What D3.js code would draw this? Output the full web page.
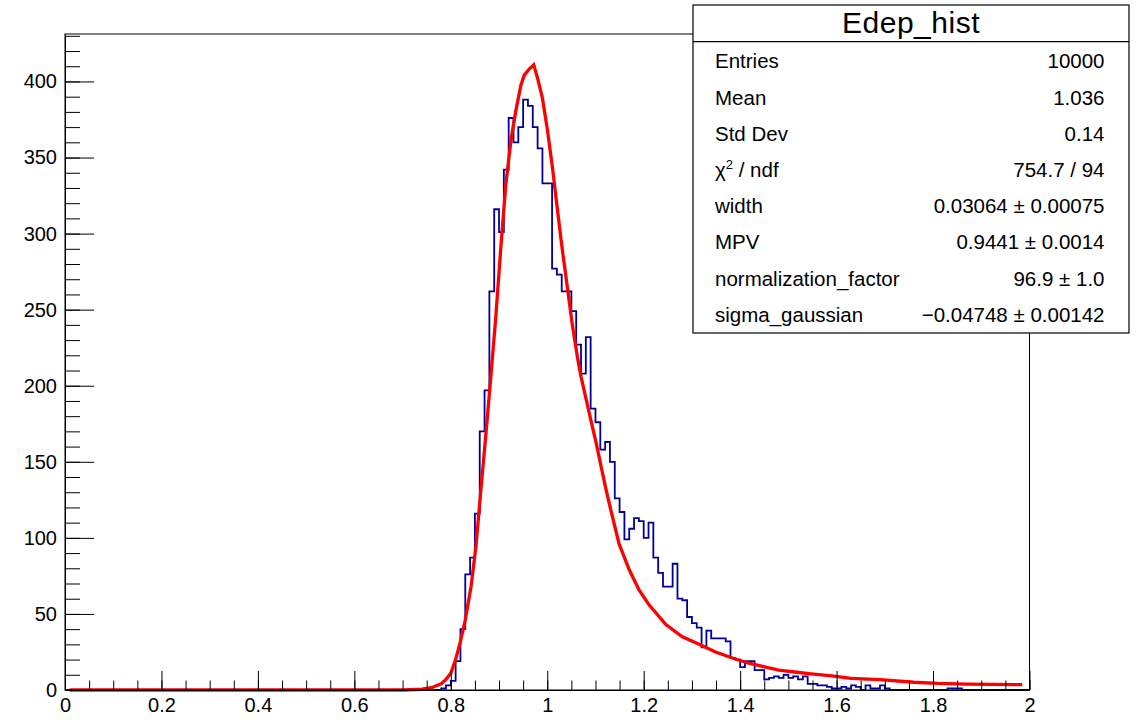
<!DOCTYPE html>
<html>
<head>
<meta charset="utf-8">
<script src="https://cdn.jsdelivr.net/npm/d3@7"></script>
<style>
  html, body { margin: 0; padding: 0; background: #fff; }
  svg { display: block; font-family: "Liberation Sans", Arial, Helvetica, sans-serif; }
</style>
</head>
<body>
<svg id="chart" width="1140" height="724"></svg>
<script>
// ---- Edep_hist: 200 bins of width 0.01 on [0, 2] ----
const binStart = 0;
const binWidth = 0.01;
const counts = [
  0, 0, 0, 0, 0, 0, 0, 0, 0, 0,            // 0.00 - 0.09
  0, 0, 0, 0, 0, 0, 0, 0, 0, 0,            // 0.10
  0, 0, 0, 0, 0, 0, 0, 0, 0, 0,            // 0.20
  0, 0, 0, 0, 0, 0, 0, 0, 0, 0,            // 0.30
  0, 0, 0, 0, 0, 0, 0, 0, 0, 0,            // 0.40
  0, 0, 0, 0, 0, 0, 0, 0, 0, 0,            // 0.50
  0, 0, 0, 0, 0, 0, 0, 0, 0, 0,            // 0.60
  0, 0, 0, 0, 0, 0, 0, 0, 1, 3,            // 0.70
  6, 19, 40, 76, 87, 116, 170, 197, 262, 316,       // 0.80
  301, 342, 376, 360, 370, 388, 384, 370, 356, 333, // 0.90
  333, 277, 273, 262, 262, 249, 227, 208, 232, 185, // 1.00
  176, 158, 163, 150, 126, 117, 99, 106, 113, 111,  // 1.10
  100, 110, 87, 77, 68, 68, 83, 60, 59, 48,         // 1.20
  44, 41, 28, 39, 34, 34, 34, 32, 21, 20,           // 1.30
  15, 19, 19, 13, 13, 7, 8, 9, 8, 10,               // 1.40
  8, 9, 7, 9, 4, 4, 3, 3, 2, 1,                     // 1.50
  1, 2, 1, 3, 2, 0, 3, 1, 1, 3,                     // 1.60
  1, 0, 0, 0, 0, 0, 0, 0, 0, 0,                     // 1.70
  0, 0, 0, 1, 1, 1, 0, 0, 0, 0,                     // 1.80
  0, 0, 0, 0, 0, 0, 0, 0, 0, 0                      // 1.90
];

// ---- Landau (x) Gauss fit curve, sampled ----
const fitX = [0.01, 0.70, 0.74, 0.76, 0.77, 0.78, 0.79, 0.80, 0.81, 0.82, 0.83,
  0.842, 0.852, 0.862, 0.873, 0.882, 0.893, 0.904, 0.914, 0.925, 0.935, 0.945,
  0.952, 0.962, 0.972, 0.980, 0.990, 1.000, 1.011, 1.021, 1.031, 1.042, 1.052,
  1.063, 1.070, 1.080, 1.090, 1.101, 1.111, 1.121, 1.132, 1.149, 1.170, 1.190,
  1.211, 1.246, 1.280, 1.315, 1.349, 1.384, 1.418, 1.453, 1.480, 1.522, 1.547,
  1.590, 1.630, 1.690, 1.760, 1.810, 1.870, 1.985];
const fitY = [0, 0, 0.5, 1.5, 2.8, 4, 7, 11, 20, 32, 46,
  68, 94, 130, 169, 202, 244, 292, 332, 362, 381, 397,
  404, 408, 411, 402, 389, 369, 343, 316, 290, 264, 240,
  218, 206, 192, 178, 163, 148, 133, 118, 96, 79, 66,
  56, 43, 35, 30, 25, 21, 17.6, 15, 13, 11.5, 10.6,
  9.3, 7.6, 6.8, 5.1, 4.3, 3.8, 3.5];

// ---- axes ----
const xTicks = [0, 0.2, 0.4, 0.6, 0.8, 1, 1.2, 1.4, 1.6, 1.8, 2];
const xMinorStep = 0.05;
const yTicks = [0, 50, 100, 150, 200, 250, 300, 350, 400];
const yMinorStep = 10;

// ---- statistics box ----
const statsTitle = "Edep_hist";
const statLabels = ["Entries", "Mean", "Std Dev", "χ2 / ndf", "width", "MPV",
  "normalization_factor", "sigma_gaussian"];
const statValues = ["10000", "1.036", "0.14", "754.7 / 94", "0.03064 ± 0.00075",
  "0.9441 ± 0.0014", "96.9 ± 1.0", "\u22120.04748 ± 0.00142"];

// ---- layout ----
const frame = { left: 65, right: 1029.5, top: 34, bottom: 690 };
const x = d3.scaleLinear().domain([0, 2]).range([frame.left, frame.right]);
const y = d3.scaleLinear().domain([0, 431.2]).range([frame.bottom, frame.top]);

const svg = d3.select("#chart");
svg.append("rect").attr("width", 1140).attr("height", 724).attr("fill", "#fff");

// histogram outline
const steps = counts.map((c, i) => [binStart + i * binWidth, c]);
steps.push([binStart + counts.length * binWidth, counts[counts.length - 1]]);
svg.append("path")
  .datum(steps)
  .attr("fill", "none")
  .attr("stroke", "#000099")
  .attr("stroke-width", 1.8)
  .attr("d", d3.line().x(d => x(d[0])).y(d => y(d[1])).curve(d3.curveStepAfter));

// fit function
svg.append("path")
  .datum(fitX.map((v, i) => [v, fitY[i]]))
  .attr("fill", "none")
  .attr("stroke", "#ff0000")
  .attr("stroke-width", 3.3)
  .attr("stroke-linejoin", "miter")
  .attr("d", d3.line().x(d => x(d[0])).y(d => y(d[1])));

// frame
svg.append("rect")
  .attr("x", frame.left).attr("y", frame.top)
  .attr("width", frame.right - frame.left).attr("height", frame.bottom - frame.top)
  .attr("fill", "none").attr("stroke", "#000").attr("stroke-width", 1);

// x axis: minor then major ticks, pointing into the frame
const xMinor = d3.range(0, 2 + 1e-9, xMinorStep).map(v => +v.toFixed(2));
svg.append("g")
  .attr("transform", `translate(0,${frame.bottom})`)
  .call(d3.axisBottom(x).tickValues(xMinor).tickSize(-9.5).tickSizeOuter(0).tickFormat(""))
  .call(g => g.select(".domain").remove());
const gx = svg.append("g")
  .attr("transform", `translate(0,${frame.bottom})`)
  .call(d3.axisBottom(x).tickValues(xTicks).tickSize(-19).tickSizeOuter(0).tickPadding(7.4)
    .tickFormat(d => d3.format("~g")(d)));
gx.select(".domain").attr("stroke", "#000");
gx.selectAll("text").attr("font-size", 20).attr("fill", "#000")
  .attr("font-family", '"Liberation Sans", Arial, sans-serif');

// y axis
const yMinor = d3.range(0, 431, yMinorStep);
svg.append("g")
  .attr("transform", `translate(${frame.left},0)`)
  .call(d3.axisLeft(y).tickValues(yMinor).tickSize(-15).tickSizeOuter(0).tickFormat(""))
  .call(g => g.select(".domain").remove());
const gy = svg.append("g")
  .attr("transform", `translate(${frame.left},0)`)
  .call(d3.axisLeft(y).tickValues(yTicks).tickSize(-29).tickSizeOuter(0).tickPadding(8));
gy.select(".domain").attr("stroke", "#000");
gy.selectAll("text").attr("font-size", 20).attr("fill", "#000")
  .attr("font-family", '"Liberation Sans", Arial, sans-serif');
svg.selectAll(".tick line").attr("stroke", "#000").attr("stroke-width", 1);

// statistics box
const box = { x: 693, y: 5, w: 436, h: 328, titleLine: 41.7 };
const sb = svg.append("g");
sb.append("rect").attr("x", box.x).attr("y", box.y).attr("width", box.w).attr("height", box.h)
  .attr("fill", "#fff").attr("stroke", "#000").attr("stroke-width", 1.2);
sb.append("line").attr("x1", box.x).attr("x2", box.x + box.w)
  .attr("y1", box.titleLine).attr("y2", box.titleLine).attr("stroke", "#000").attr("stroke-width", 1.2);
sb.append("text").attr("x", box.x + box.w / 2).attr("y", 33.3)
  .attr("text-anchor", "middle").attr("font-size", 30).attr("letter-spacing", 0.5)
  .attr("fill", "#000").text(statsTitle);

const rowY = i => 68.3 + i * 36.2;
statLabels.forEach((lab, i) => {
  const t = sb.append("text").attr("x", 715).attr("y", rowY(i))
    .attr("font-size", 20.5).attr("fill", "#000");
  if (lab.startsWith("χ2")) {
    t.append("tspan").text("χ");
    t.append("tspan").attr("font-size", 13).attr("dy", -8).text("2");
    t.append("tspan").attr("dy", 8).text(" / ndf");
  } else {
    t.text(lab);
  }
  sb.append("text").attr("x", 1104.5).attr("y", rowY(i))
    .attr("text-anchor", "end").attr("font-size", 20.5).attr("fill", "#000")
    .text(statValues[i]);
});
</script>
</body>
</html>
